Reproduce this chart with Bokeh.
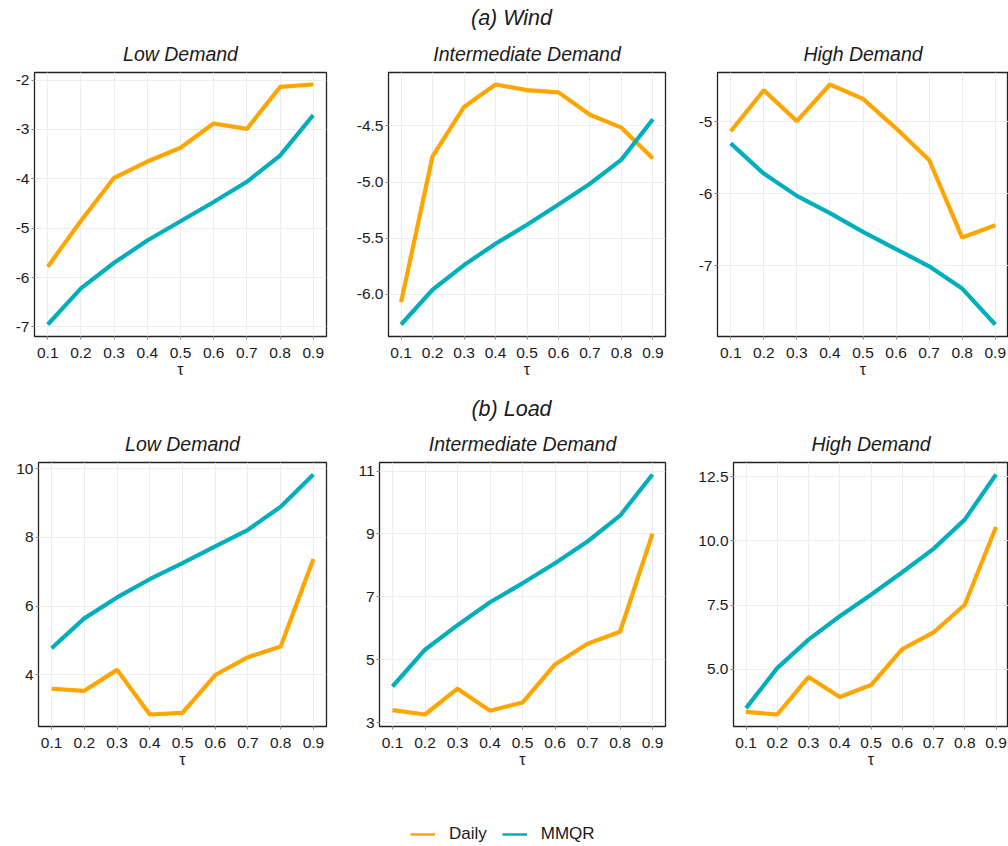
from bokeh.plotting import figure
from bokeh.layouts import column, row
from bokeh.models import FixedTicker, Label, Legend, LegendItem, Range1d, CustomJSTickFormatter
from bokeh.embed import file_html
from bokeh.resources import INLINE

tau = [0.1, 0.2, 0.3, 0.4, 0.5, 0.6, 0.7, 0.8, 0.9]
tau_ticks = [0.1, 0.2, 0.3, 0.4, 0.5, 0.6, 0.7, 0.8, 0.9]

# (a) Wind
wind_low_daily = [-5.78, -4.85, -3.98, -3.65, -3.37, -2.88, -2.99, -2.14, -2.09]
wind_low_mmqr = [-6.95, -6.22, -5.70, -5.25, -4.86, -4.47, -4.06, -3.53, -2.71]
wind_int_daily = [-6.07, -4.77, -4.33, -4.13, -4.18, -4.20, -4.40, -4.515, -4.79]
wind_int_mmqr = [-6.27, -5.96, -5.74, -5.55, -5.38, -5.20, -5.015, -4.80, -4.44]
wind_high_daily = [-5.13, -4.56, -4.99, -4.48, -4.68, -5.09, -5.53, -6.61, -6.44]
wind_high_mmqr = [-5.30, -5.72, -6.03, -6.27, -6.53, -6.77, -7.01, -7.32, -7.82]

# (b) Load
load_low_daily = [3.59, 3.53, 4.14, 2.84, 2.89, 3.99, 4.51, 4.82, 7.37]
load_low_mmqr = [4.77, 5.64, 6.25, 6.78, 7.25, 7.74, 8.22, 8.89, 9.83]
load_int_daily = [3.40, 3.26, 4.08, 3.38, 3.64, 4.85, 5.51, 5.89, 9.01]
load_int_mmqr = [4.15, 5.32, 6.10, 6.83, 7.43, 8.07, 8.76, 9.58, 10.89]
load_high_daily = [3.33, 3.23, 4.69, 3.91, 4.38, 5.78, 6.43, 7.51, 10.54]
load_high_mmqr = [3.48, 5.04, 6.15, 7.06, 7.90, 8.78, 9.69, 10.83, 12.59]

panel_titles = ["Low Demand", "Intermediate Demand", "High Demand"]
section_titles = ["(a) Wind", "(b) Load"]
series_names = ["Daily", "MMQR"]
x_label = "τ"

wind_yticks = [[-7, -6, -5, -4, -3, -2], [-6.0, -5.5, -5.0, -4.5], [-8, -7, -6, -5]]
load_yticks = [[4, 6, 8, 10], [3, 5, 7, 9, 11], [5.0, 7.5, 10.0, 12.5]]
wind_decimals = [0, 1, 0]
load_decimals = [0, 0, 1]

COL_DAILY = "#FFA500"
COL_MMQR = "#00AFBB"
FONT = "Liberation Sans"
TXT = "#1a1a1a"


def panel(title, daily, mmqr, yticks, dec, width, bl, br, height, bt, bb, tstand):
    lo = min(min(daily), min(mmqr))
    hi = max(max(daily), max(mmqr))
    pad = 0.05 * (hi - lo)
    p = figure(width=width, height=height, output_backend="svg", toolbar_location=None,
               x_range=Range1d(0.06, 0.94), y_range=Range1d(lo - pad, hi + pad),
               min_border_left=bl, min_border_right=br, min_border_top=bt, min_border_bottom=bb)
    p.title.text = title
    p.title.align = "center"
    p.title.text_font = FONT
    p.title.text_font_style = "italic"
    p.title.text_font_size = "19.5px"
    p.title.text_color = TXT
    p.title.offset = 0
    p.title.standoff = tstand
    p.line(tau, daily, line_color=COL_DAILY, line_width=4.2)
    p.line(tau, mmqr, line_color=COL_MMQR, line_width=4.2)
    p.outline_line_color = "#222222"
    p.outline_line_width = 1.3
    p.xaxis.ticker = FixedTicker(ticks=tau_ticks)
    p.yaxis.ticker = FixedTicker(ticks=yticks)
    p.yaxis.formatter = CustomJSTickFormatter(code="return tick.toFixed(%d);" % dec)
    p.xaxis.formatter = CustomJSTickFormatter(code="return tick.toFixed(1);")
    p.xaxis.axis_label = x_label
    p.xaxis.axis_label_text_font = FONT
    p.xaxis.axis_label_text_font_style = "normal"
    p.xaxis.axis_label_text_font_size = "16px"
    p.xaxis.axis_label_text_color = TXT
    p.xaxis.axis_label_standoff = 0
    for ax in (p.xaxis, p.yaxis):
        ax.axis_line_color = None
        ax.major_tick_line_color = "#888888"
        ax.major_tick_out = 3
        ax.major_tick_in = 0
        ax.minor_tick_line_color = None
        ax.major_label_text_font = FONT
        ax.major_label_text_font_size = "15.5px"
        ax.major_label_text_color = TXT
    p.xaxis.major_label_standoff = 8
    p.yaxis.major_label_standoff = 2
    p.xgrid.grid_line_color = "#EDEDED"
    p.ygrid.grid_line_color = "#EDEDED"
    p.xgrid.ticker = FixedTicker(ticks=tau_ticks)
    p.ygrid.ticker = FixedTicker(ticks=yticks)
    p.background_fill_color = "white"
    p.border_fill_color = "white"
    return p


def header(text, height, y_from_top):
    h = figure(width=1008, height=height, output_backend="svg", toolbar_location=None,
               x_range=Range1d(0, 1008), y_range=Range1d(0, height),
               min_border=0, outline_line_color=None)
    h.axis.visible = False
    h.grid.visible = False
    h.add_layout(Label(x=511, y=height - y_from_top, x_units="data", y_units="data",
                       text=text, text_font=FONT, text_font_style="italic",
                       text_font_size="21.5px", text_align="center", text_baseline="middle",
                       text_color=TXT))
    return h


h1 = header(section_titles[0], 33, 17)
p1 = panel(panel_titles[0], wind_low_daily, wind_low_mmqr, wind_yticks[0], wind_decimals[0], 340, 34, 14, 351, 39, 48, 15)
p2 = panel(panel_titles[1], wind_int_daily, wind_int_mmqr, wind_yticks[1], wind_decimals[1], 340, 48, 15, 351, 39, 48, 15)
p3 = panel(panel_titles[2], wind_high_daily, wind_high_mmqr, wind_yticks[2], wind_decimals[2], 328, 37, 0, 351, 39, 48, 15)

h2 = header(section_titles[1], 39, 24)
p4 = panel(panel_titles[0], load_low_daily, load_low_mmqr, load_yticks[0], load_decimals[0], 340, 38, 14, 357, 39, 54, 15)
p5 = panel(panel_titles[1], load_int_daily, load_int_mmqr, load_yticks[1], load_decimals[1], 340, 39, 15, 357, 39, 54, 15)
p6 = panel(panel_titles[2], load_high_daily, load_high_mmqr, load_yticks[2], load_decimals[2], 328, 53, 0, 357, 39, 54, 15)

# legend figure
nan = float("nan")
lg = figure(width=1008, height=66, output_backend="svg", toolbar_location=None,
            x_range=Range1d(0, 1), y_range=Range1d(0, 1), min_border=0, outline_line_color=None)
lg.axis.visible = False
lg.grid.visible = False
r1 = lg.line(x=[nan], y=[nan], line_color=COL_DAILY, line_width=2.5)
r2 = lg.line(x=[nan], y=[nan], line_color=COL_MMQR, line_width=2.5)
legend = Legend(items=[LegendItem(label=series_names[0], renderers=[r1]),
                       LegendItem(label=series_names[1], renderers=[r2])],
                orientation="horizontal", location=(410, 2),
                label_text_font=FONT, label_text_font_size="17px", label_text_color=TXT,
                glyph_width=25, label_standoff=14, spacing=15, border_line_color=None,
                background_fill_alpha=0, padding=0, margin=0)
lg.add_layout(legend, "center")

layout = column(h1, row(p1, p2, p3), h2, row(p4, p5, p6), lg)
open("out.html", "w").write(file_html(layout, INLINE))
